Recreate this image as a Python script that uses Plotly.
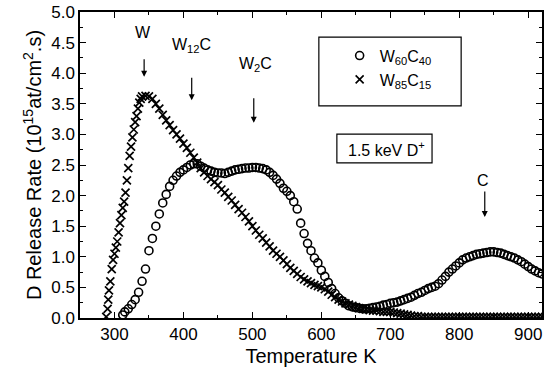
import plotly.graph_objects as go

# W60C40 (open circles)
t_w60 = [312, 315, 320, 325, 330, 335, 340, 345, 350, 355, 360, 365, 370, 375, 380, 385, 390, 395,
         400, 405, 410, 415, 420, 425, 430, 435, 440, 445, 450, 455, 460, 465, 470, 475, 480, 485,
         490, 495, 500, 505, 510, 515, 520, 525, 530, 535, 540, 545, 550, 555, 560, 565, 570, 575,
         580, 585, 590, 595, 600, 605, 610, 615, 620, 625, 630, 635, 640, 645, 650, 655, 660, 665,
         670, 675, 680, 685, 690, 695, 700, 705, 710, 715, 720, 725, 730, 735, 740, 745, 750, 755,
         760, 765, 770, 775, 780, 785, 790, 795, 800, 805, 810, 815, 820, 825, 830, 835, 840, 845,
         850, 855, 860, 865, 870, 875, 880, 885, 890, 895, 900, 905, 910, 915, 920]
r_w60 = [0.05, 0.1, 0.15, 0.22, 0.3, 0.42, 0.6, 0.8, 1.1, 1.3, 1.5, 1.7, 1.88, 2.02, 2.15, 2.25, 2.32, 2.38,
         2.42, 2.46, 2.5, 2.52, 2.52, 2.48, 2.45, 2.42, 2.4, 2.38, 2.37, 2.37, 2.36, 2.38, 2.4, 2.42, 2.43, 2.44,
         2.45, 2.45, 2.46, 2.46, 2.45, 2.44, 2.42, 2.38, 2.33, 2.27, 2.2, 2.12, 2.07, 2.0, 1.9, 1.78, 1.55, 1.38,
         1.22, 1.1, 0.98, 0.9, 0.78, 0.68, 0.58, 0.48, 0.4, 0.33, 0.28, 0.24, 0.2, 0.18, 0.17, 0.16, 0.15, 0.15,
         0.16, 0.17, 0.18, 0.19, 0.21, 0.22, 0.24, 0.25, 0.26, 0.28, 0.3, 0.32, 0.34, 0.37, 0.4, 0.42, 0.45, 0.48,
         0.5, 0.52, 0.56, 0.62, 0.68, 0.75, 0.8, 0.85, 0.9, 0.95, 0.98, 1.0, 1.02, 1.04, 1.05, 1.06, 1.07, 1.08,
         1.08, 1.07, 1.06, 1.04, 1.02, 1.0, 0.98, 0.95, 0.92, 0.88, 0.84, 0.8, 0.77, 0.74, 0.72]

# W85C15 (crosses)
t_w85 = [288, 290, 291, 292, 294, 296, 298, 300, 302, 304, 306, 308, 310, 312, 314, 316, 318, 320, 322,
         324, 326, 328, 330, 332, 334, 336, 338, 340, 345, 350, 355, 360, 365, 370, 375, 380, 385, 390,
         395, 400, 405, 410, 415, 420, 425, 430, 435, 440, 445, 450, 455, 460, 465, 470, 475, 480, 485,
         490, 495, 500, 505, 510, 515, 520, 525, 530, 535, 540, 545, 550, 555, 560, 565, 570, 575, 580,
         585, 590, 595, 600, 605, 610, 615, 620, 625, 630, 635, 640, 645, 650, 655, 660, 665, 670, 675,
         680, 685, 690, 695, 700, 705, 710, 715, 720, 725, 730, 735, 740, 745, 750, 755, 760, 765, 770,
         775, 780, 785, 790, 795, 800, 805, 810, 815, 820, 825, 830, 835, 840, 845, 850, 855, 860, 865,
         870, 875, 880, 885, 890, 895, 900, 905, 910, 915, 920]
r_w85 = [0.02, 0.15, 0.3, 0.45, 0.6, 0.8, 0.95, 1.05, 1.15, 1.25, 1.4, 1.55, 1.68, 1.8, 1.9, 2.05, 2.25, 2.45, 2.65,
         2.8, 2.95, 3.08, 3.2, 3.3, 3.42, 3.52, 3.58, 3.62, 3.63, 3.62, 3.58, 3.5, 3.42, 3.32, 3.23, 3.15, 3.07, 3.0,
         2.93, 2.85, 2.78, 2.7, 2.62, 2.54, 2.45, 2.38, 2.32, 2.27, 2.22, 2.17, 2.1, 2.05, 1.98, 1.92, 1.85, 1.78, 1.72,
         1.65, 1.58, 1.5, 1.43, 1.36, 1.3, 1.23, 1.17, 1.1, 1.05, 1.0, 0.94, 0.88, 0.82, 0.77, 0.72, 0.67, 0.63, 0.6,
         0.57, 0.54, 0.52, 0.5, 0.47, 0.43, 0.38, 0.34, 0.3, 0.27, 0.24, 0.22, 0.2, 0.18, 0.16, 0.15, 0.14, 0.13, 0.12,
         0.12, 0.11, 0.1, 0.1, 0.1, 0.09, 0.08, 0.07, 0.06, 0.05, 0.04, 0.03, 0.03, 0.02, 0.02, 0.02, 0.02, 0.02, 0.02,
         0.02, 0.02, 0.02, 0.02, 0.02, 0.02, 0.02, 0.02, 0.02, 0.02, 0.02, 0.02, 0.02, 0.02, 0.02, 0.02, 0.02, 0.02, 0.02,
         0.02, 0.02, 0.02, 0.02, 0.02, 0.02, 0.02, 0.02, 0.02, 0.02, 0.02]

series_names = ["W<sub>60</sub>C<sub>40</sub>", "W<sub>85</sub>C<sub>15</sub>"]
peak_labels = ["W", "W<sub>12</sub>C", "W<sub>2</sub>C", "C"]
peak_text_x = [341, 411, 505, 835]
peak_text_y = [4.67, 4.45, 4.15, 2.25]
arrow_x = [343, 412, 502, 837]
arrow_y = [3.94, 3.56, 3.19, 1.65]
arrow_len = [19, 24, 26, 27]

FONT = "Liberation Sans, Arial, Helvetica, sans-serif"

fig = go.Figure()
fig.add_trace(go.Scatter(x=t_w60, y=r_w60, mode="markers", name=series_names[0],
                         marker=dict(symbol="circle-open", size=8, color="black", line=dict(width=1.6))))
fig.add_trace(go.Scatter(x=t_w85, y=r_w85, mode="markers", name=series_names[1],
                         marker=dict(symbol="x-thin-open", size=8, color="black", line=dict(width=1.7))))

for lab, tx, ty in zip(peak_labels, peak_text_x, peak_text_y):
    fig.add_annotation(x=tx, y=ty, text=lab, showarrow=False, font=dict(size=16, color="black", family=FONT))
for axv, ayv, ln in zip(arrow_x, arrow_y, arrow_len):
    fig.add_annotation(x=axv, y=ayv, text="", showarrow=True, ax=0, ay=-ln,
                       arrowhead=2, arrowsize=1, arrowwidth=1.2, arrowcolor="black")

# legend box and beam box
fig.add_shape(type="rect", xref="paper", yref="paper", x0=0.517, x1=0.825, y0=0.693, y1=0.918,
              line=dict(color="black", width=1.2))
fig.add_shape(type="rect", xref="paper", yref="paper", x0=0.556, x1=0.762, y0=0.507, y1=0.601,
              line=dict(color="black", width=1.2))
fig.add_annotation(xref="paper", yref="paper", x=0.664, y=0.552, text="1.5 keV D<sup>+</sup>",
                   showarrow=False, font=dict(size=16, color="black", family=FONT))

axis_common = dict(showline=True, linecolor="black", linewidth=1.5, mirror="allticks",
                   ticks="inside", ticklen=6, tickwidth=1.2, tickcolor="black",
                   showgrid=False, zeroline=False, automargin=False,
                   tickfont=dict(size=17, color="black", family=FONT))

fig.update_xaxes(range=[250, 920], dtick=100, tick0=0,
                 minor=dict(ticks="inside", dtick=50, tick0=0, ticklen=3, tickcolor="black", tickwidth=1),
                 title=dict(text="Temperature K", font=dict(size=20, color="black", family=FONT), standoff=6),
                 **axis_common)
fig.update_yaxes(range=[0, 5], dtick=0.5, tick0=0, tickformat=".1f",
                 minor=dict(ticks="inside", dtick=0.25, tick0=0, ticklen=3, tickcolor="black", tickwidth=1),
                 title=dict(text="D Release Rate (10<sup>15</sup>at/cm<sup>2</sup>.s)",
                            font=dict(size=20, color="black", family=FONT), standoff=4),
                 **axis_common)

fig.update_layout(width=548, height=377, margin=dict(l=80, r=6, t=12, b=59),
                  plot_bgcolor="white", paper_bgcolor="white",
                  font=dict(family=FONT, color="black"),
                  showlegend=True,
                  legend=dict(x=0.562, y=0.913, xanchor="left", yanchor="top", bgcolor="rgba(0,0,0,0)",
                              borderwidth=0, font=dict(size=16, color="black", family=FONT),
                              itemwidth=30, tracegroupgap=0))

fig.write_html("out.html", config={"displayModeBar": False},
               post_script="document.body.style.margin='0';")
